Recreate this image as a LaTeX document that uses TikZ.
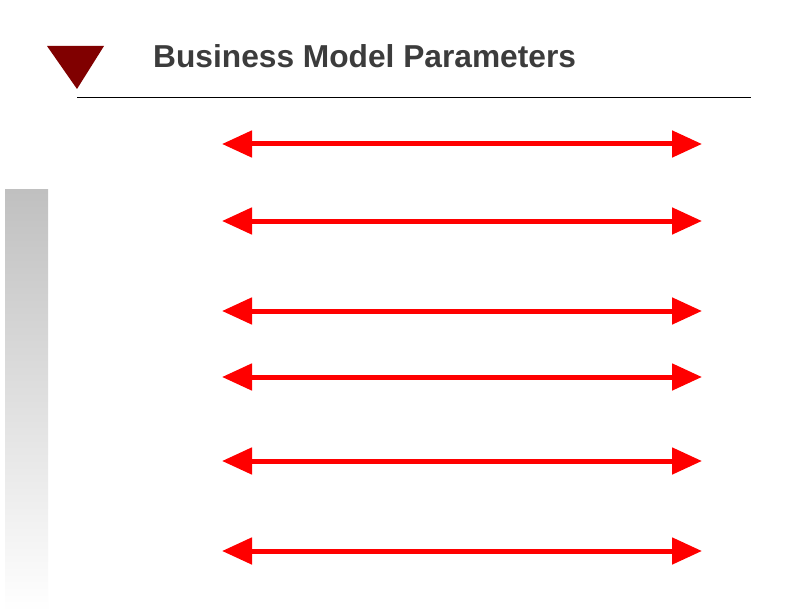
\documentclass[tikz,border=0pt]{standalone}
\usepackage{fontspec}
\setmainfont{Liberation Sans}
\usetikzlibrary{arrows.meta}
\definecolor{titlegray}{HTML}{3C3C3C}
\definecolor{darkred}{HTML}{800000}
\definecolor{bargray}{HTML}{C0C0C0}
\begin{document}
\begin{tikzpicture}[x=1bp,y=-1bp,
  dblarrow/.style={draw=red,line width=5bp,{Triangle[length=30bp,width=26bp]}-{Triangle[length=30bp,width=26bp]}},
  titletext/.style={font=\bfseries\fontsize{31.7bp}{36bp}\selectfont,text=titlegray,anchor=base west,inner sep=0pt}]
\useasboundingbox (0,0) rectangle (792,612);
\fill[white] (0,0) rectangle (792,612);
% gradient bar
\shade[top color=bargray,bottom color=white] (5,190) rectangle (48,612);
% triangle
\fill[darkred] (47,46) -- (104,46) -- (77,89) -- cycle;
% rule
\draw[line width=1.5bp,black] (77,97.5) -- (751,97.5);
% title
\node[titletext] (title) at (153,67.7) {Business Model Parameters};
% arrows
\foreach \i/\y in {1/144,2/221,3/311,4/377,5/461,6/551}{
  \coordinate (l\i) at (222,\y);
  \coordinate (r\i) at (702,\y);
  \draw[dblarrow] (l\i) -- (r\i);
}
\end{tikzpicture}
\end{document}
